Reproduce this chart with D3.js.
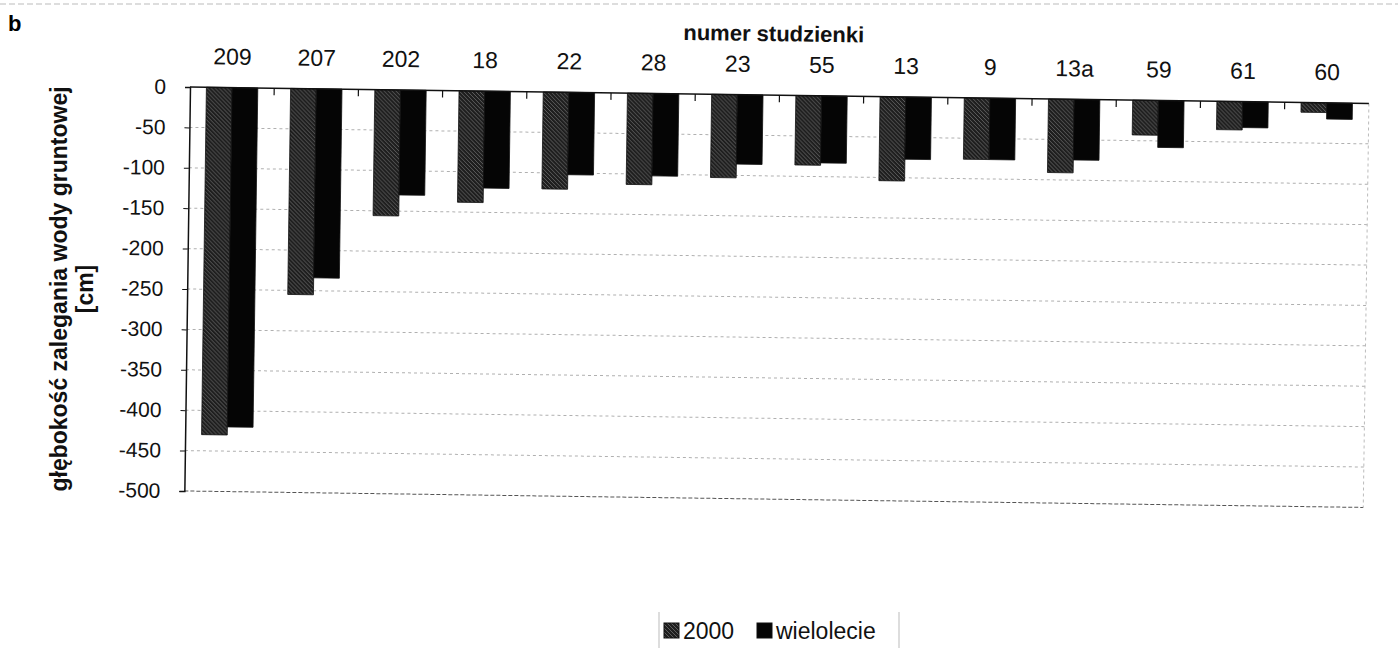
<!DOCTYPE html>
<html>
<head>
<meta charset="utf-8">
<script src="https://cdn.jsdelivr.net/npm/d3@7"></script>
<style>
  html, body { margin: 0; padding: 0; background: #fff; }
  svg { display: block; font-family: "Liberation Sans", Arial, sans-serif; }
</style>
</head>
<body>
<svg id="chart" width="1398" height="648"></svg>
<script>
const categories = ["209","207","202","18","22","28","23","55","13","9","13a","59","61","60"];
const values2000 = [-430,-255,-156,-138,-120,-113,-103,-86,-104,-76,-91,-43,-35,-12];
const valuesWielolecie = [-420,-234,-130,-120,-102,-102,-86,-83,-77,-76,-75,-58,-32,-20];
const seriesNames = ["2000","wielolecie"];
const yTickValues = [0,-50,-100,-150,-200,-250,-300,-350,-400,-450,-500];
const xTitle = "numer studzienki";
const yTitleLines = ["głębokość zalegania wody gruntowej","[cm]"];
const panelLabel = "b";

const svg = d3.select("#chart");
const plotW = 1179, plotH = 404, mLeft = 190, mTop = 87;

// hatch pattern for the 2000 series
const defs = svg.append("defs");
const pat = defs.append("pattern").attr("id","hatch").attr("patternUnits","userSpaceOnUse")
  .attr("width",4).attr("height",4);
pat.append("rect").attr("width",4).attr("height",4).attr("fill","#1e1e1e");
pat.append("path").attr("d","M-1,-1 L5,5 M-1,3 L1,5 M3,-1 L5,1").attr("stroke","#5e5e5e").attr("stroke-width",1);

// faint scan edge line
svg.append("line").attr("x1",0).attr("x2",1398).attr("y1",4).attr("y2",4)
  .attr("stroke","#bbb").attr("stroke-dasharray","6,3");

svg.append("text").attr("x",8).attr("y",31).attr("font-size",22).attr("font-weight","bold").text(panelLabel);

const rot = svg.append("g").attr("transform",`rotate(0.8, ${mLeft}, ${mTop})`);
const g = rot.append("g").attr("transform",`translate(${mLeft},${mTop})`);

const x = d3.scaleBand().domain(categories).range([0,plotW]).paddingInner(0.39).paddingOuter(0.195);
const x1 = d3.scaleBand().domain(seriesNames).range([0,x.bandwidth()]);
const y = d3.scaleLinear().domain([-500,0]).range([plotH,0]);

// gridlines
g.append("g").selectAll("line").data(yTickValues.filter(v => v < 0 && v > -500)).join("line")
  .attr("x1",0).attr("x2",plotW).attr("y1",d=>y(d)).attr("y2",d=>y(d))
  .attr("stroke","#b0b0b0").attr("stroke-width",1).attr("stroke-dasharray","3,3");

// plot frame: bottom and right dotted
g.append("line").attr("x1",0).attr("x2",plotW).attr("y1",y(-500)).attr("y2",y(-500))
  .attr("stroke","#555").attr("stroke-dasharray","4,2");
g.append("line").attr("x1",plotW).attr("x2",plotW).attr("y1",0).attr("y2",plotH)
  .attr("stroke","#bbb").attr("stroke-dasharray","3,3");

// y axis
const yAxis = d3.axisLeft(y).tickValues(yTickValues).tickSize(5).tickPadding(19).tickFormat(d3.format("d"));
const ya = g.append("g").call(yAxis);
ya.select(".domain").attr("stroke","#111").attr("stroke-width",1.5);
ya.selectAll(".tick line").attr("stroke","#111");
ya.selectAll("text").attr("font-size",21).attr("fill","#111")
  .text(d => d === 0 ? "0" : "-" + Math.abs(d));

// bars
const data = categories.map((c,i) => ({cat:c, vals:[values2000[i], valuesWielolecie[i]]}));
const groups = g.append("g").selectAll("g").data(data).join("g")
  .attr("transform", d => `translate(${x(d.cat)},0)`);
groups.selectAll("rect").data(d => d.vals.map((v,j)=>({s:seriesNames[j], v}))).join("rect")
  .attr("x", d => x1(d.s)).attr("width", x1.bandwidth())
  .attr("y", y(0)).attr("height", d => y(d.v) - y(0))
  .attr("fill", d => d.s === "2000" ? "url(#hatch)" : "#050505")
  .attr("stroke", "#111").attr("stroke-width", 0.8);

// zero axis line (top) with category boundary ticks pointing down
g.append("line").attr("x1",0).attr("x2",plotW).attr("y1",y(0)).attr("y2",y(0))
  .attr("stroke","#111").attr("stroke-width",1.5);
const gap = x.step() - x.bandwidth();
g.append("g").selectAll("line").data(categories.slice(1)).join("line")
  .attr("x1", d => x(d) - gap/2).attr("x2", d => x(d) - gap/2)
  .attr("y1", y(0)).attr("y2", y(0) + 7).attr("stroke","#111").attr("stroke-width",1.2);

// category labels on top
g.append("g").selectAll("text").data(categories).join("text")
  .attr("x", d => x(d) + x.bandwidth()/2).attr("y", -23)
  .attr("text-anchor","middle").attr("font-size",23).attr("fill","#111").text(d => d);

// x title
g.append("text").attr("x", 583).attr("y", -54).attr("text-anchor","middle")
  .attr("font-size",22).attr("font-weight","bold").attr("fill","#111").text(xTitle);

// y title
const yt = svg.append("text").attr("transform","translate(67,289) rotate(-90)")
  .attr("text-anchor","middle").attr("font-size",23).attr("font-weight","bold").attr("fill","#111");
yt.append("tspan").attr("x",0).attr("dy",0).text(yTitleLines[0]);
yt.append("tspan").attr("x",0).attr("dy",26).text(yTitleLines[1]);

// legend
const lg = svg.append("g");
lg.append("line").attr("x1",659).attr("x2",659).attr("y1",612).attr("y2",648).attr("stroke","#bbb");
lg.append("line").attr("x1",899).attr("x2",899).attr("y1",612).attr("y2",648).attr("stroke","#bbb");
const legX = [664, 757];
seriesNames.forEach((s,i) => {
  lg.append("rect").attr("x",legX[i]).attr("y",623).attr("width",15).attr("height",15)
    .attr("fill", i === 0 ? "url(#hatch)" : "#050505").attr("stroke","#111");
  lg.append("text").attr("x",legX[i]+19).attr("y",639).attr("font-size",23).attr("fill","#111").text(s);
});
</script>
</body>
</html>
